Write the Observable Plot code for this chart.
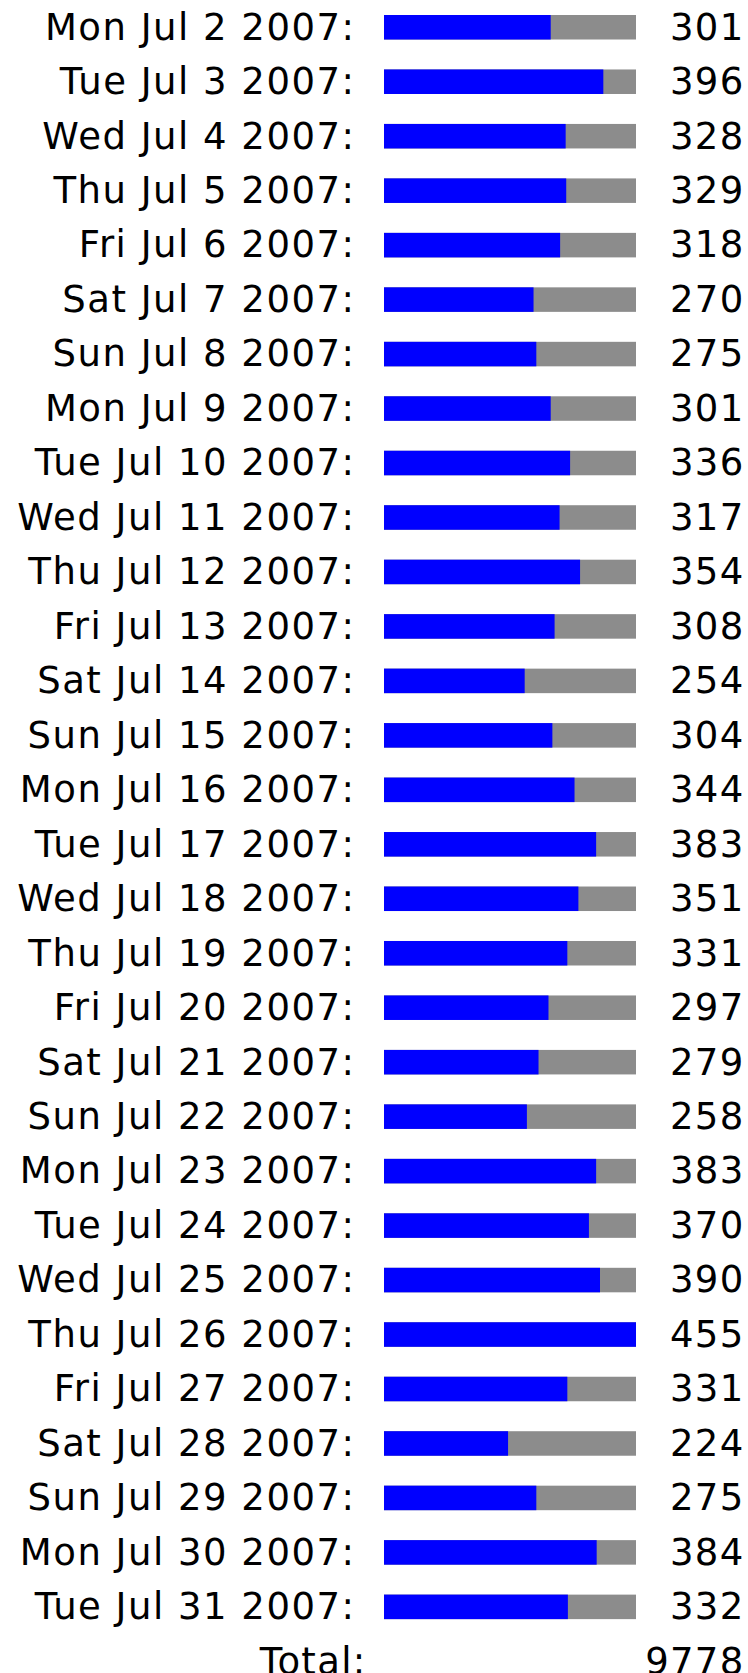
<!DOCTYPE html>
<html>
<head>
<meta charset="utf-8">
<script src="https://cdn.jsdelivr.net/npm/d3@7"></script>
<script src="https://cdn.jsdelivr.net/npm/@observablehq/plot@0.6"></script>
<style>
  html, body { margin: 0; padding: 0; background: #fff; }
  #chart svg { display: block; }
  #chart g[aria-label="y-axis tick label"] text { letter-spacing: 1.5px; }
  #chart g[aria-label="text"] text { letter-spacing: 1.3px; }
</style>
</head>
<body>
<div id="chart"></div>
<script>
const dates = [
  "Mon Jul 2 2007:", "Tue Jul 3 2007:", "Wed Jul 4 2007:", "Thu Jul 5 2007:", "Fri Jul 6 2007:",
  "Sat Jul 7 2007:", "Sun Jul 8 2007:", "Mon Jul 9 2007:", "Tue Jul 10 2007:", "Wed Jul 11 2007:",
  "Thu Jul 12 2007:", "Fri Jul 13 2007:", "Sat Jul 14 2007:", "Sun Jul 15 2007:", "Mon Jul 16 2007:",
  "Tue Jul 17 2007:", "Wed Jul 18 2007:", "Thu Jul 19 2007:", "Fri Jul 20 2007:", "Sat Jul 21 2007:",
  "Sun Jul 22 2007:", "Mon Jul 23 2007:", "Tue Jul 24 2007:", "Wed Jul 25 2007:", "Thu Jul 26 2007:",
  "Fri Jul 27 2007:", "Sat Jul 28 2007:", "Sun Jul 29 2007:", "Mon Jul 30 2007:", "Tue Jul 31 2007:"
];
const values = [
  301, 396, 328, 329, 318, 270, 275, 301, 336, 317,
  354, 308, 254, 304, 344, 383, 351, 331, 297, 279,
  258, 383, 370, 390, 455, 331, 224, 275, 384, 332
];
const totalLabel = "Total:";
const totalValue = 9778;

const maxValue = d3.max(values);
const rows = dates.map((d, i) => ({date: d, value: values[i]}));
const yDomain = [...dates, totalLabel];

const chart = Plot.plot({
  width: 748,
  height: 1673,
  marginLeft: 384,
  marginRight: 112,
  marginTop: 15,
  marginBottom: 0,
  style: {fontFamily: "'DejaVu Sans', Verdana, sans-serif", fontSize: "37px", color: "#000", background: "#fff"},
  x: {domain: [0, maxValue], axis: null},
  y: {domain: yDomain, range: [15, 1673.6], round: false, paddingInner: 0.55, paddingOuter: 0, axis: null, label: null},
  marks: [
    Plot.barX(rows, {y: "date", x1: 0, x2: maxValue, fill: "#8c8c8c"}),
    Plot.barX(rows, {y: "date", x1: 0, x2: "value", fill: "#0000ff"}),
    Plot.axisY(dates, {tickSize: 0, tickPadding: 29, fontSize: 37, fill: "#000", label: null}),
    Plot.text(rows, {y: "date", text: d => String(d.value), frameAnchor: "right", textAnchor: "end", dx: 108, fontSize: 37, fill: "#000"}),
    Plot.text([totalLabel], {y: d => d, x: 0, text: d => d, textAnchor: "end", dx: -18, fontSize: 37, fill: "#000"}),
    Plot.text([totalValue], {y: () => totalLabel, text: d => String(d), frameAnchor: "right", textAnchor: "end", dx: 108, fontSize: 37, fill: "#000"})
  ]
});
document.getElementById("chart").appendChild(chart);
</script>
</body>
</html>
